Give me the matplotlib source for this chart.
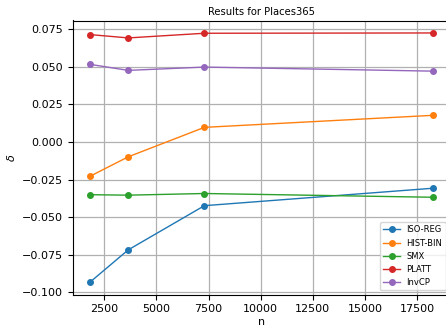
import matplotlib
matplotlib.use("Agg")
import matplotlib.pyplot as plt

# Calibration-set sizes (x axis).
n_vals = [1825, 3650, 7300, 18250]

# Delta values per method.
iso_reg = [-0.0932, -0.0718, -0.0424, -0.0308]
hist_bin = [-0.0228, -0.0099, 0.0097, 0.0177]
smx = [-0.0351, -0.0354, -0.0343, -0.0368]
platt = [0.0714, 0.0692, 0.0723, 0.0725]
invcp = [0.0516, 0.0476, 0.0498, 0.0471]

labels = ["ISO-REG", "HIST-BIN", "SMX", "PLATT", "InvCP"]
series = [iso_reg, hist_bin, smx, platt, invcp]

fig = plt.figure(figsize=(4.46, 3.28), dpi=100)
# Axes run a little past the right edge, as in the cropped reference.
ax = fig.add_axes([73 / 446, 33.5 / 328, 377 / 446, 274 / 328])

for lab, vals in zip(labels, series):
    ax.plot(n_vals, vals, marker="o", markersize=4, linewidth=1, label=lab)

ax.grid(True, color="#b0b0b0", linewidth=0.9)
ax.set_title("Results for Places365", fontsize=7.2, pad=4)
ax.set_xlabel("n", fontsize=8, labelpad=2)
ax.set_ylabel(r"$\delta$", fontsize=8)
ax.tick_params(labelsize=8)
ax.legend(loc="lower right", fontsize=6)

fig.savefig("out.png", dpi=100)
